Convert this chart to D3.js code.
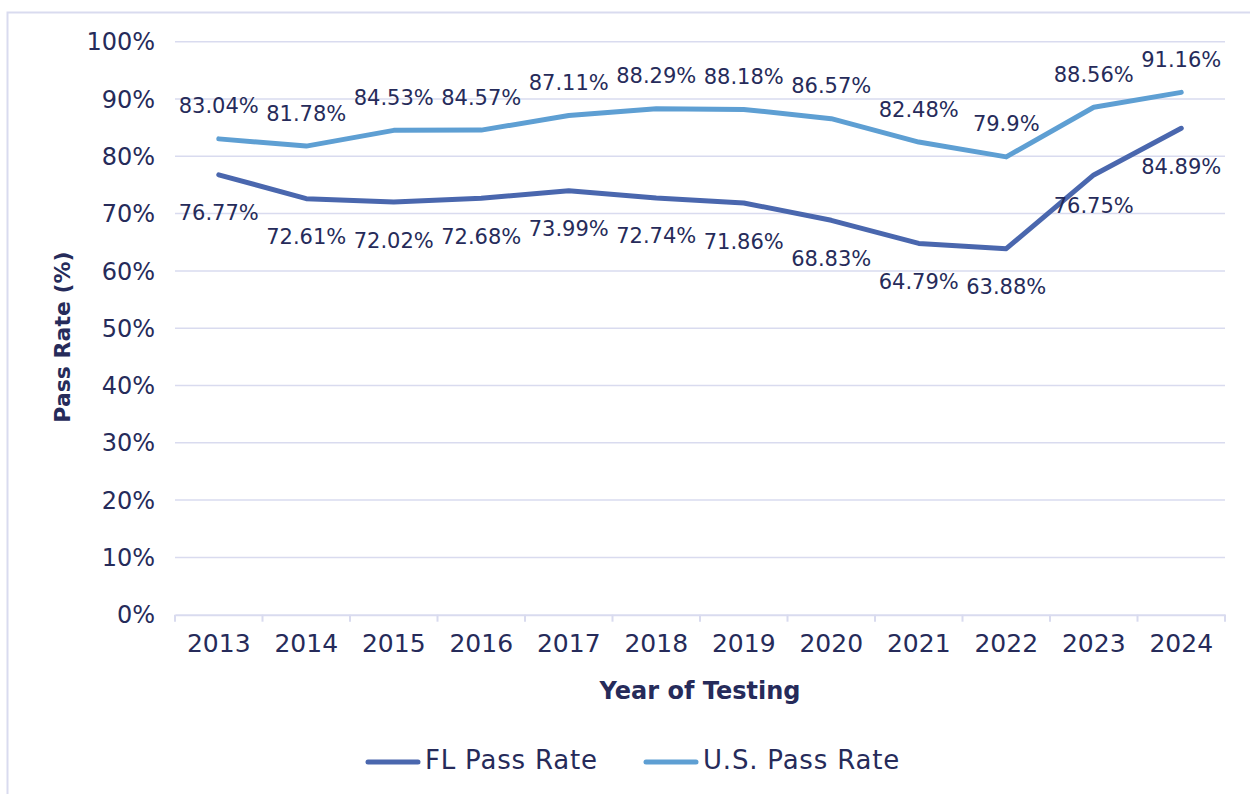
<!DOCTYPE html>
<html lang="en"><head>
<meta charset="utf-8">
<title>pass rates</title>
<script src="https://cdn.jsdelivr.net/npm/d3@7"></script>
<style>
  body { margin: 0; background: #fff; }
  text { font-family: "DejaVu Sans", sans-serif; fill: #262b5a; }
</style>
</head>
<body>
<svg width="1250" height="794"></svg>
<script>
// data
var years = ["2013","2014","2015","2016","2017","2018","2019","2020","2021","2022","2023","2024"];
var flRate = [76.77, 72.61, 72.02, 72.68, 73.99, 72.74, 71.86, 68.83, 64.79, 63.88, 76.75, 84.89];
var usRate = [83.04, 81.78, 84.53, 84.57, 87.11, 88.29, 88.18, 86.57, 82.48, 79.9, 88.56, 91.16];
var flLabels = ["76.77%","72.61%","72.02%","72.68%","73.99%","72.74%","71.86%","68.83%","64.79%","63.88%","76.75%","84.89%"];
var usLabels = ["83.04%","81.78%","84.53%","84.57%","87.11%","88.29%","88.18%","86.57%","82.48%","79.9%","88.56%","91.16%"];
var yTicks = [0,10,20,30,40,50,60,70,80,90,100];

var svg = d3.select("svg"),
    width = +svg.attr("width"),
    height = +svg.attr("height");

var ink = "#262b5a", grid = "#d9dbef";
var flColor = "#4a67ae", usColor = "#5e9fd3";

// frame
svg.append("rect")
    .attr("x", 7.5).attr("y", 12.5)
    .attr("width", 1260).attr("height", 800)
    .attr("fill", "none").attr("stroke", grid).attr("stroke-width", 2);

var x = d3.scaleBand().domain(years).range([175, 1225]);
var y = d3.scaleLinear().domain([0, 100]).range([614.7, 41.7]);

// gridlines
svg.append("g").selectAll("line")
    .data(yTicks.filter(function(d){ return d > 0; }))
    .enter().append("line")
    .attr("x1", 175).attr("x2", 1225)
    .attr("y1", function(d){ return y(d); })
    .attr("y2", function(d){ return y(d); })
    .attr("stroke", grid).attr("stroke-width", 1.5);

// y labels
svg.append("g").selectAll("text")
    .data(yTicks)
    .enter().append("text")
    .attr("x", 155)
    .attr("y", function(d){ return y(d); })
    .attr("dy", "0.36em")
    .attr("text-anchor", "end")
    .style("font-size", "24px")
    .text(function(d){ return d + "%"; });

// x axis
var xAxis = svg.append("g")
    .attr("transform", "translate(0," + y(0) + ")")
    .call(d3.axisBottom(x).tickSize(0).tickPadding(20));
xAxis.select(".domain").attr("stroke", grid).attr("stroke-width", 2);
xAxis.selectAll(".tick text").style("font-size", "25px").attr("fill", ink)
    .style("font-family", "'DejaVu Sans', sans-serif");

// category boundary ticks
var bounds = years.map(function(d){ return x(d); }).concat([x.range()[1]]);
svg.append("g").selectAll("line")
    .data(bounds)
    .enter().append("line")
    .attr("x1", function(d){ return d; }).attr("x2", function(d){ return d; })
    .attr("y1", y(0)).attr("y2", y(0) + 7)
    .attr("stroke", grid).attr("stroke-width", 2);

var cx = function(d, i){ return x(years[i]) + x.bandwidth() / 2; };

var line = d3.line()
    .x(function(d, i){ return cx(d, i); })
    .y(function(d){ return y(d); });

svg.append("path").datum(usRate)
    .attr("d", line).attr("fill", "none")
    .attr("stroke", usColor).attr("stroke-width", 5)
    .attr("stroke-linecap", "round").attr("stroke-linejoin", "round");

svg.append("path").datum(flRate)
    .attr("d", line).attr("fill", "none")
    .attr("stroke", flColor).attr("stroke-width", 5)
    .attr("stroke-linecap", "round").attr("stroke-linejoin", "round");

// data labels
svg.append("g").selectAll("text")
    .data(usRate).enter().append("text")
    .attr("x", cx)
    .attr("y", function(d){ return y(d) - 33; })
    .attr("dy", "0.36em")
    .attr("text-anchor", "middle")
    .style("font-size", "21px")
    .text(function(d, i){ return usLabels[i]; });

svg.append("g").selectAll("text")
    .data(flRate).enter().append("text")
    .attr("x", cx)
    .attr("y", function(d, i){ return y(d) + (i == 10 ? 31 : 38); })
    .attr("dy", "0.36em")
    .attr("text-anchor", "middle")
    .style("font-size", "21px")
    .text(function(d, i){ return flLabels[i]; });

// axis titles
svg.append("text")
    .attr("x", 700).attr("y", 690)
    .attr("dy", "0.36em")
    .attr("text-anchor", "middle")
    .attr("font-weight", "bold")
    .style("font-size", "24px")
    .text("Year of Testing");

svg.append("text")
    .attr("transform", "translate(62,337) rotate(-90)")
    .attr("dy", "0.36em")
    .attr("text-anchor", "middle")
    .attr("font-weight", "bold")
    .style("font-size", "22px")
    .text("Pass Rate (%)");

// legend
var legend = [{name: "FL Pass Rate", color: flColor, x: 368}, {name: "U.S. Pass Rate", color: usColor, x: 646}];
var lg = svg.append("g").selectAll("g").data(legend).enter().append("g");
lg.append("line")
    .attr("x1", function(d){ return d.x; }).attr("x2", function(d){ return d.x + 50; })
    .attr("y1", 762).attr("y2", 762)
    .attr("stroke", function(d){ return d.color; })
    .attr("stroke-width", 5).attr("stroke-linecap", "round");
lg.append("text")
    .attr("x", function(d){ return d.x + 57; })
    .attr("y", 760)
    .attr("dy", "0.36em")
    .style("font-size", "26px")
    .style("letter-spacing", "0.8px")
    .text(function(d){ return d.name; });
</script>
</body>
</html>
